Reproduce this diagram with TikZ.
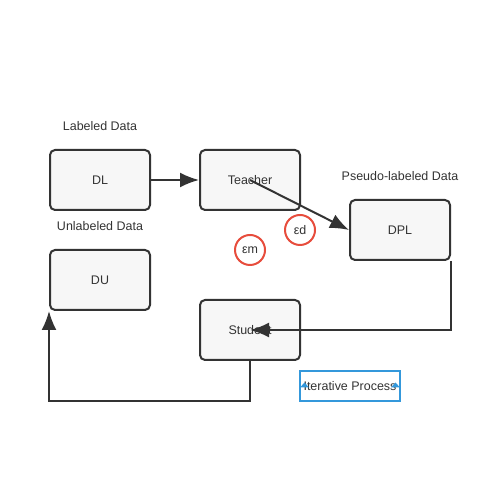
\documentclass[tikz,border=0pt]{standalone}
\usepackage{fontspec}
\setmainfont{Liberation Sans}
\usetikzlibrary{arrows.meta}
\definecolor{ink}{HTML}{333333}
\definecolor{boxfill}{HTML}{F7F7F7}
\definecolor{errred}{HTML}{E74C3C}
\definecolor{loopblue}{HTML}{3498DB}

\begin{document}
\begin{tikzpicture}[font=\fontsize{7.1}{8.5}\selectfont, text=ink,
datbox/.style={draw=ink, fill=boxfill, line width=0.4mm, rounded corners=1mm,
minimum width=2cm, minimum height=1.2cm},
errcirc/.style={circle, draw=errred, line width=0.4mm, minimum size=0.6cm, inner sep=0pt},
flow/.style={draw=ink, line width=0.4mm, -{Latex[length=3.8mm,width=3mm]}}]
\useasboundingbox (0,0) rectangle (10,10);
% data and models
\node[datbox] (dl) at (2,6.4) {DL};
\node[datbox] (teacher) at (5,6.4) {Teacher};
\node[datbox] (dpl) at (8,5.4) {DPL};
\node[datbox] (du) at (2,4.4) {DU};
\node[datbox] (student) at (5,3.4) {Student};
\node (dllab) at (2,7.48) {Labeled Data};
\node (dulab) at (2,5.48) {Unlabeled Data};
\node (dpllab) at (8,6.48) {Pseudo-labeled Data};
% errors
\node[errcirc] (ed) at (6,5.4) {εd};
\node[errcirc] (em) at (5,5.0) {εm};
% loop label
\node[draw=loopblue, line width=0.4mm, minimum width=2cm, minimum height=0.6cm,
inner sep=0pt] (iter) at (7,2.28) {Iterative Process};
\fill[loopblue] ([xshift=0.02cm,yshift=0.29cm]iter.south west) -- ++(0.18,0) -- ++(-0.09,0.1) -- cycle;
\fill[loopblue] ([xshift=-0.2cm,yshift=0.29cm]iter.south east) -- ++(0.18,0) -- ++(-0.09,0.1) -- cycle;
% arrows
\draw[flow] (dl) -- (teacher);
\draw[flow] (teacher.center) -- (dpl.west);
\draw[flow] (dpl.south east) |- (student.center);
\draw[flow] (student.south) -- ++(0,-0.8) -| (du.south west);
\end{tikzpicture}
\end{document}
